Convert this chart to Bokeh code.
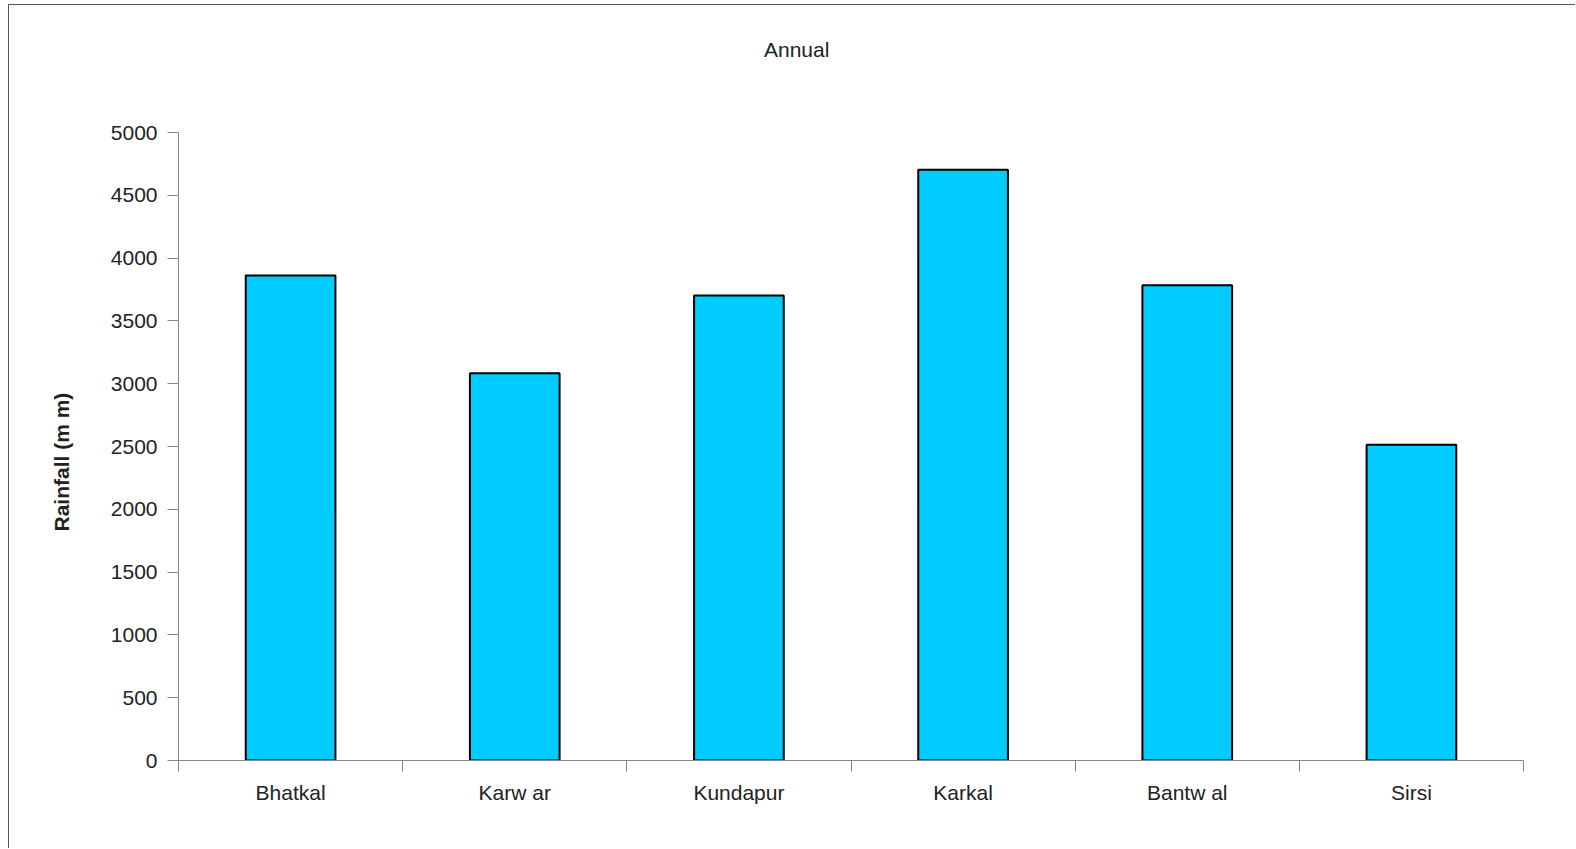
from bokeh.plotting import figure
from bokeh.models import Range1d, FixedTicker, Title, Div
from bokeh.layouts import column
from bokeh.embed import file_html
from bokeh.resources import INLINE

# Annual rainfall by station
stations = ["Bhatkal", "Karw ar", "Kundapur", "Karkal", "Bantw al", "Sirsi"]
rainfall = [3861, 3083, 3702, 4704, 3784, 2514]
y_ticks = [0, 500, 1000, 1500, 2000, 2500, 3000, 3500, 4000, 4500, 5000]

FONT = "Liberation Sans"
TEXT = "#222222"
AXIS = "#868686"

W, H = 1567, 844
HEAD = 60
LEFT, RIGHT, TOP, BOTTOM = 169, 52, 67, 89

# chart title in a header strip above the plot
head = Div(
    text='<div style="position:absolute; left:755px; top:34px; white-space:nowrap;">Annual</div>',
    width=W, height=HEAD, margin=0,
    styles={"font-family": FONT, "font-size": "21px", "line-height": "21px",
            "color": TEXT, "position": "relative"},
)

p = figure(
    width=W, height=H - HEAD, margin=0,
    output_backend="svg", toolbar_location=None,
    x_range=Range1d(0, len(stations)), y_range=Range1d(0, 5000),
    min_border_left=LEFT, min_border_right=RIGHT,
    min_border_top=TOP, min_border_bottom=BOTTOM,
    background_fill_color="white", border_fill_color="white",
    outline_line_color=None,
)

centers = [i + 0.5 for i in range(len(stations))]
p.vbar(x=centers, top=rainfall, bottom=0, width=0.4,
       fill_color="#00CCFF", line_color="black", line_width=2)

p.xgrid.visible = False
p.ygrid.visible = False

# x axis: labels at category centres, tick marks at category boundaries
xa = p.xaxis[0]
xa.ticker = FixedTicker(ticks=centers, minor_ticks=list(range(len(stations) + 1)))
xa.major_label_overrides = {c: s for c, s in zip(centers, stations)}
xa.major_tick_out = 0
xa.major_tick_in = 0
xa.minor_tick_out = 11
xa.minor_tick_in = 0
xa.minor_tick_line_color = AXIS
xa.axis_line_color = AXIS
xa.major_label_standoff = 9
xa.major_label_text_font = FONT
xa.major_label_text_font_size = "21px"
xa.major_label_text_color = TEXT

ya = p.yaxis[0]
ya.ticker = FixedTicker(ticks=y_ticks, minor_ticks=[])
ya.major_tick_out = 11
ya.major_tick_in = 0
ya.major_tick_line_color = AXIS
ya.axis_line_color = AXIS
ya.major_label_standoff = 10
ya.major_label_text_font = FONT
ya.major_label_text_font_size = "21px"
ya.major_label_text_color = TEXT

# value axis label as a side title, placed along the axis with an offset
y_title = Title(text="Rainfall (m m)", align="left", offset=229, standoff=70,
                text_font=FONT, text_font_size="21px", text_font_style="bold",
                text_color=TEXT)
p.add_layout(y_title, "left")

page = column(head, p, width=W, height=H, spacing=0)
page.margin = (4, 0, 0, 8)
page.styles = {"border-top": "1px solid #555555", "border-left": "1px solid #555555",
               "background-color": "white"}

open("out.html", "w").write(file_html(page, INLINE))
